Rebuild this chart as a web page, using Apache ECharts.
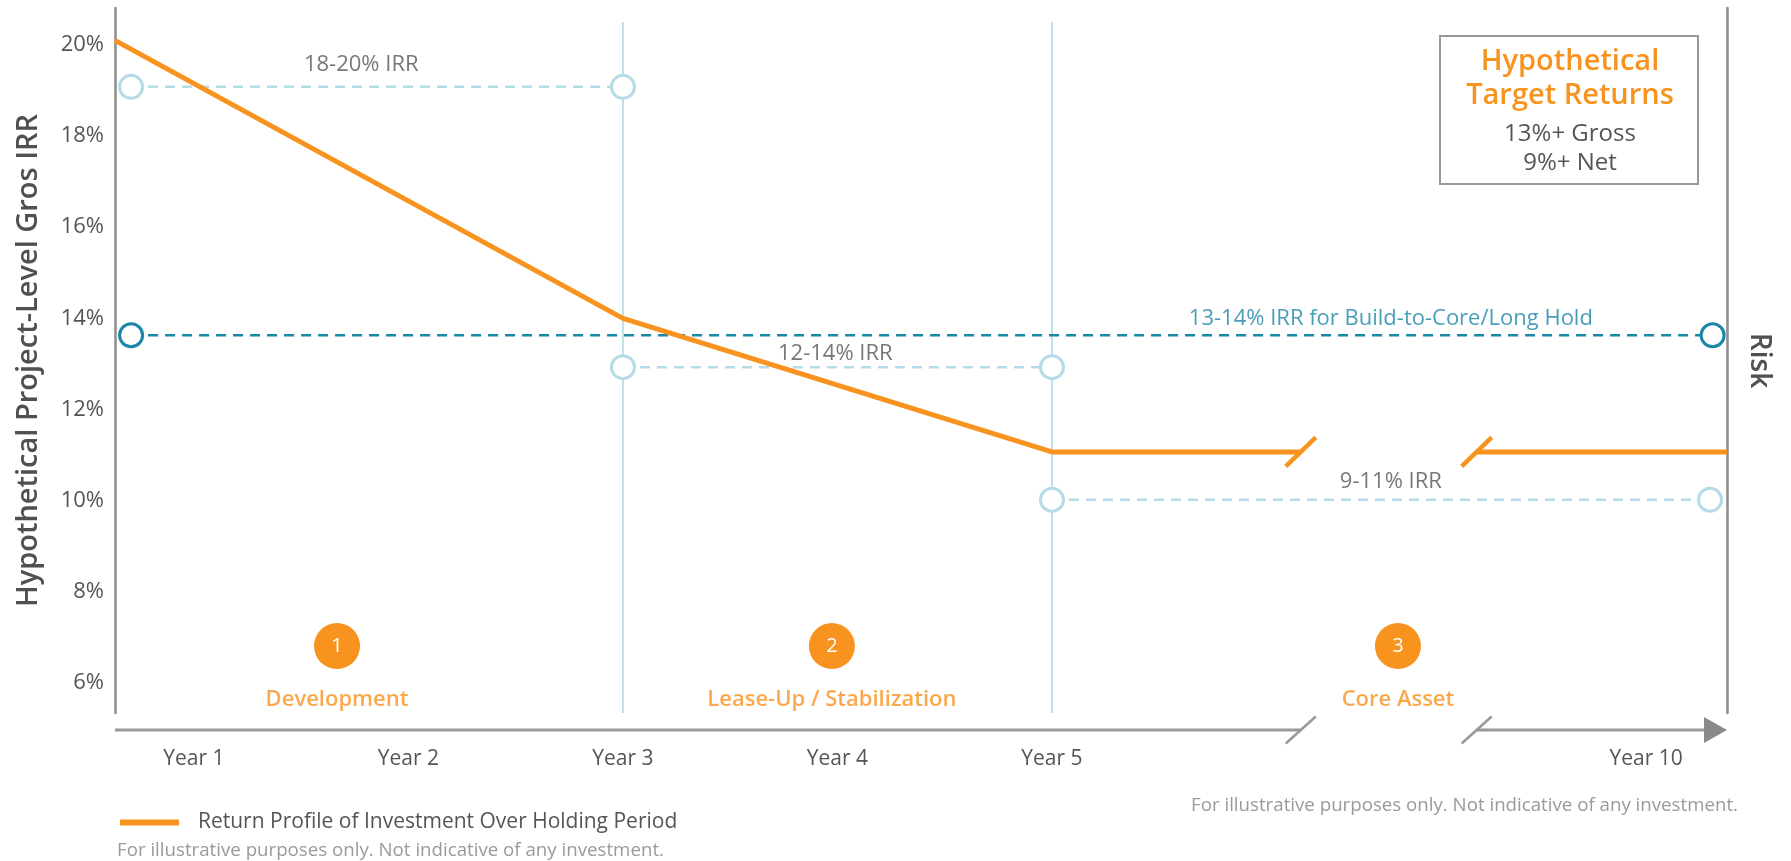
<!DOCTYPE html>
<html>
<head>
<meta charset="utf-8">
<script src="https://cdn.jsdelivr.net/npm/echarts@6/dist/echarts.min.js"></script>
<style>html,body{margin:0;padding:0;background:#fff}#c{width:1791px;height:861px}</style>
</head>
<body>
<div id="c"></div>
<script>
// ---------- data ----------
const yearLabels = ['Year 1', 'Year 2', 'Year 3', 'Year 4', 'Year 5', 'Year 10'];
const yearPos = [1, 2, 3, 4, 5, 7.77];
const yTicks = [6, 8, 10, 12, 14, 16, 18, 20];

const legendName = 'Return Profile of Investment Over Holding Period';
const returnX = [0.632, 3, 5, 6.16];
const returnY = [20.1, 14.0, 11.07, 11.07];
const returnX2 = [6.98, 8.147];
const returnY2 = [11.07, 11.07];
const breakX = [6.16, 6.98];

const rangeLabels = ['18-20% IRR', '12-14% IRR', '9-11% IRR'];
const rangeStart = [0.707, 3, 5];
const rangeEnd = [3, 5, 8.068];
const rangeY = [19.08, 12.93, 10.02];
const rangeLabelX = [1.78, 3.99, 6.58];
const rangeLabelY = [19.56, 13.22, 10.41];

const holdLabel = '13-14% IRR for Build-to-Core/Long Hold';
const holdStart = 0.707, holdEnd = 8.08, holdY = 13.63;
const holdLabelX = 6.58, holdLabelY = 14.0;

const phaseNames = ['Development', 'Lease-Up / Stabilization', 'Core Asset'];
const phaseNums = ['1', '2', '3'];
const phaseX = [1.667, 3.974, 6.613];
const phaseBadgeY = 6.81;
const phaseLabelY = 5.63;

const yearGridX = [3, 5];
const yearGridTop = 20.505;

// ---------- layout / style ----------
const X_MIN = 0.632, X_MAX = 8.147, Y_MIN = 5.342, Y_MAX = 20.81;
const PX_X = 214.5, PX_Y = 45.57;      // approx px per data unit (for decorations)
const AXIS_Y = Y_MIN - 17 / PX_Y;       // bottom timeline arrow
const FONT = '"Open Sans", sans-serif';
const ORANGE = '#f7931e', TEAL = '#1a86a8', LIGHT = '#b5dce6', VGRID = '#bfe0e9';
const TXT = '#555555', AXISC = '#8c8c8c';

const slash = (cx, cy, dx, dy) => [[cx - dx, cy - dy], [cx + dx, cy + dy]];

const series = [];
// vertical year gridlines
yearGridX.forEach(x => series.push({
  type: 'line', silent: true, z: 1, symbol: 'none', clip: false,
  data: [[x, Y_MIN], [x, yearGridTop]],
  lineStyle: { color: VGRID, width: 2 }
}));
// range dashed lines
rangeLabels.forEach((n, i) => series.push({
  type: 'line', silent: true, z: 2, clip: false,
  data: [[rangeStart[i], rangeY[i]], [rangeEnd[i], rangeY[i]]],
  symbol: 'circle', symbolSize: 23, showSymbol: true,
  lineStyle: { color: LIGHT, width: 2.5, type: [10, 7] },
  itemStyle: { color: '#fff', borderColor: LIGHT, borderWidth: 3 }
}));
// hold line
series.push({
  type: 'line', silent: true, z: 2, clip: false,
  data: [[holdStart, holdY], [holdEnd, holdY]],
  symbol: 'circle', symbolSize: 23,
  lineStyle: { color: TEAL, width: 2.5, type: [10, 7] },
  itemStyle: { color: '#fff', borderColor: TEAL, borderWidth: 3 }
});
// return profile
series.push({
  name: legendName, type: 'line', z: 4, symbol: 'none', clip: false,
  data: returnX.map((x, i) => [x, returnY[i]]),
  lineStyle: { color: ORANGE, width: 5 }, itemStyle: { color: ORANGE }
});
series.push({
  name: legendName, type: 'line', z: 4, symbol: 'none', clip: false,
  data: returnX2.map((x, i) => [x, returnY2[i]]),
  lineStyle: { color: ORANGE, width: 5 }, itemStyle: { color: ORANGE }
});
breakX.forEach(bx => series.push({
  type: 'line', silent: true, z: 4, symbol: 'none', clip: false,
  data: slash(bx, returnY[returnY.length - 1], 15 / PX_X, 14.5 / PX_Y),
  lineStyle: { color: ORANGE, width: 4.5 }
}));
// bottom timeline
series.push({
  type: 'line', silent: true, z: 3, symbol: 'none', clip: false,
  data: [[X_MIN, AXIS_Y], [breakX[0], AXIS_Y]],
  lineStyle: { color: '#999', width: 3 }
});
series.push({
  type: 'line', silent: true, z: 3, symbol: 'none', clip: false,
  data: [[breakX[1], AXIS_Y], [X_MAX - 15 / PX_X, AXIS_Y]],
  lineStyle: { color: '#999', width: 3 }
});
breakX.forEach(bx => series.push({
  type: 'line', silent: true, z: 3, symbol: 'none', clip: false,
  data: slash(bx, AXIS_Y, 15 / PX_X, 13.5 / PX_Y),
  lineStyle: { color: '#999', width: 2.5 }
}));
series.push({
  type: 'scatter', silent: true, z: 3, clip: false,
  symbol: 'path://M0,0 L23,13 L0,26 Z', symbolSize: [23, 26],
  data: [[X_MAX - 11.5 / PX_X, AXIS_Y]],
  itemStyle: { color: '#8a8a8a', opacity: 1 }
});
// text labels helper
const labelSeries = (items, style) => ({
  type: 'scatter', silent: true, z: 10, clip: false, symbolSize: 1,
  itemStyle: { color: 'rgba(0,0,0,0)' },
  label: Object.assign({ show: true, position: 'inside', formatter: '{b}', fontFamily: FONT }, style),
  data: items
});
series.push(labelSeries(rangeLabels.map((n, i) => ({ name: n, value: [rangeLabelX[i], rangeLabelY[i]] })),
  { color: TXT, fontSize: 22 }));
series.push(labelSeries([{ name: holdLabel, value: [holdLabelX, holdLabelY] }],
  { color: TEAL, fontSize: 22 }));
series.push(labelSeries(phaseNames.map((n, i) => ({ name: n, value: [phaseX[i], phaseLabelY] })),
  { color: ORANGE, fontSize: 22, fontWeight: 600 }));
// phase badges
series.push({
  type: 'scatter', silent: true, z: 6, clip: false, symbol: 'circle', symbolSize: 46,
  itemStyle: { color: ORANGE, opacity: 1 },
  label: { show: true, position: 'inside', formatter: '{b}', color: '#fff', fontSize: 20, fontFamily: FONT },
  data: phaseNums.map((n, i) => ({ name: n, value: [phaseX[i], phaseBadgeY] }))
});

const option = {
  animation: false,
  backgroundColor: '#fff',
  textStyle: { fontFamily: FONT },
  grid: { left: 115, right: 64, top: 8, bottom: 148, containLabel: false },
  xAxis: {
    type: 'value', min: X_MIN, max: X_MAX,
    axisLine: { show: false }, axisTick: { show: false }, splitLine: { show: false },
    axisLabel: {
      customValues: yearPos, margin: 36, color: TXT, fontSize: 21, fontFamily: FONT,
      formatter: v => {
        let best = 0;
        yearPos.forEach((p, i) => { if (Math.abs(p - v) < Math.abs(yearPos[best] - v)) best = i; });
        return yearLabels[best];
      }
    }
  },
  yAxis: [{
    type: 'value', min: Y_MIN, max: Y_MAX, position: 'left',
    axisLine: { show: true, lineStyle: { color: AXISC, width: 2.5 } },
    axisTick: { show: false }, splitLine: { show: false },
    axisLabel: { customValues: yTicks, formatter: v => v + '%', color: TXT, fontSize: 22, fontFamily: FONT, margin: 11 },
    name: 'Hypothetical Project-Level Gros IRR', nameLocation: 'middle', nameRotate: 90, nameGap: 72,
    nameTextStyle: { fontSize: 29, fontWeight: 600, color: '#505050', fontFamily: FONT }
  }, {
    type: 'value', min: Y_MIN, max: Y_MAX, position: 'right',
    axisLine: { show: true, lineStyle: { color: AXISC, width: 2.5 } },
    axisTick: { show: false }, splitLine: { show: false }, axisLabel: { show: false },
    name: 'Risk', nameLocation: 'middle', nameRotate: -90, nameGap: 18,
    nameTextStyle: { fontSize: 28, fontWeight: 600, color: '#505050', fontFamily: FONT }
  }],
  legend: {
    data: [legendName], left: 115, top: 807, icon: 'rect', itemWidth: 59, itemHeight: 6,
    textStyle: { fontSize: 21, color: TXT, fontFamily: FONT, padding: [0, 0, 0, 14] },
    selectedMode: false
  },
  graphic: [
    { type: 'rect', shape: { x: 1440, y: 36, width: 258, height: 148 },
      style: { fill: '#fff', stroke: '#999', lineWidth: 2 }, z: 20 },
    { type: 'text', x: 1570, y: 62, z: 21, style: { text: 'Hypothetical', fill: ORANGE, font: '600 29px "Open Sans"', align: 'center', verticalAlign: 'middle' } },
    { type: 'text', x: 1570, y: 96, z: 21, style: { text: 'Target Returns', fill: ORANGE, font: '600 29px "Open Sans"', align: 'center', verticalAlign: 'middle' } },
    { type: 'text', x: 1570, y: 134, z: 21, style: { text: '13%+ Gross', fill: TXT, font: '24px "Open Sans"', align: 'center', verticalAlign: 'middle' } },
    { type: 'text', x: 1570, y: 163, z: 21, style: { text: '9%+ Net', fill: TXT, font: '24px "Open Sans"', align: 'center', verticalAlign: 'middle' } },
    { type: 'text', x: 117, y: 851, style: { text: 'For illustrative purposes only. Not indicative of any investment.', fill: '#9a9a9a', font: '18.7px "Open Sans"', align: 'left', verticalAlign: 'middle' } },
    { type: 'text', x: 1738, y: 806, style: { text: 'For illustrative purposes only. Not indicative of any investment.', fill: '#9a9a9a', font: '18.7px "Open Sans"', align: 'right', verticalAlign: 'middle' } }
  ],
  series: series
};
const chart = echarts.init(document.getElementById('c'));
chart.setOption(option);
</script>
</body>
</html>
